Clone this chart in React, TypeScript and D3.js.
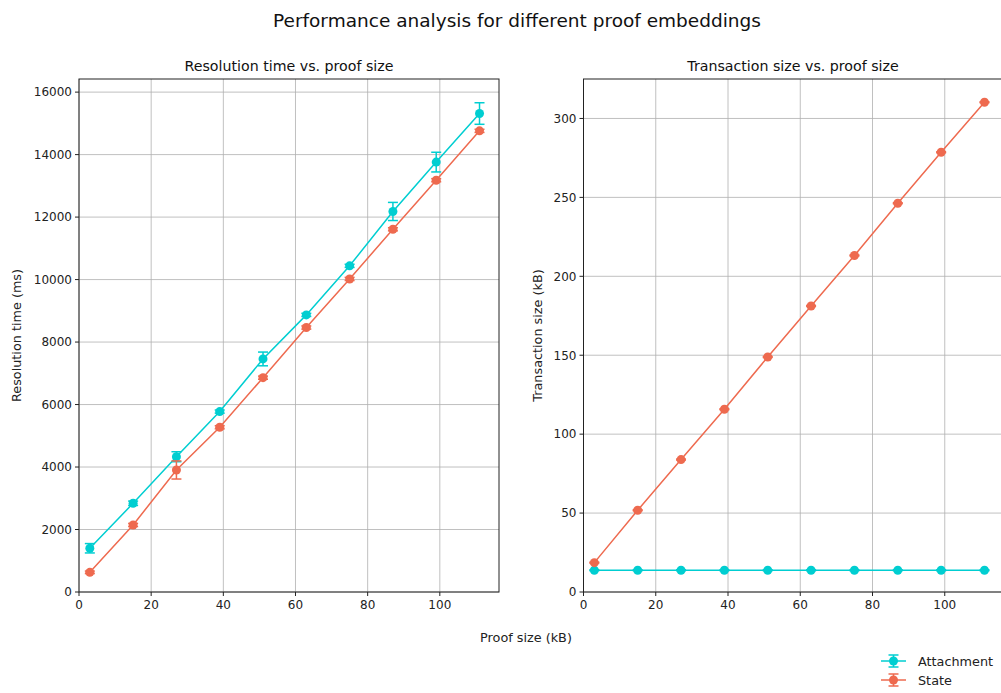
import * as d3 from 'd3';

const proofSizes = [3, 15, 27, 39, 51, 63, 75, 87, 99, 111];

const attachmentTime = [1400, 2840, 4330, 5775, 7460, 8870, 10440, 12180, 13760, 15315];
const attachmentTimeErr = [150, 70, 160, 50, 220, 50, 50, 290, 315, 345];
const stateTime = [630, 2145, 3906, 5273, 6860, 8465, 10020, 11610, 13180, 14760];
const stateTimeErr = [40, 50, 290, 50, 50, 50, 50, 50, 50, 50];

const attachmentTx = [13.8, 13.8, 13.8, 13.8, 13.8, 13.8, 13.8, 13.8, 13.8, 13.8];
const attachmentTxErr = [0.3, 0.3, 0.3, 0.3, 0.3, 0.3, 0.3, 0.3, 0.3, 0.3];
const stateTx = [18.6, 51.8, 83.9, 115.8, 148.9, 181.2, 213.2, 246.3, 278.6, 310.3];
const stateTxErr = [0.3, 0.3, 0.3, 0.3, 0.3, 0.3, 0.3, 0.3, 0.3, 0.3];

const timeTicks = [0, 2000, 4000, 6000, 8000, 10000, 12000, 14000, 16000];
const txTicks = [0, 50, 100, 150, 200, 250, 300];
const xTicks = [0, 20, 40, 60, 80, 100];

const seriesNames = ['Attachment', 'State'];
const CYAN = '#00ced1';
const ORANGE = '#ee6a4f';
const FONT = '"DejaVu Sans", sans-serif';
const TICK_SIZE = 12;
const LABEL_SIZE = 12.8;

interface Series {
  values: number[];
  errors: number[];
  color: string;
}

interface PanelProps {
  left: number;
  right: number;
  top: number;
  bottom: number;
  yMax: number;
  yTicks: number[];
  title: string;
  titleX: number;
  yLabel: string;
  yLabelX: number;
  series: Series[];
}

const Panel = ({ left, right, top, bottom, yMax, yTicks, title, titleX, yLabel, yLabelX, series }: PanelProps) => {
  const x = d3.scaleLinear().domain([0, 116.4]).range([left, right]);
  const y = d3.scaleLinear().domain([0, yMax]).range([bottom, top]);
  const line = d3.line<[number, number]>().x(d => x(d[0])).y(d => y(d[1]));
  const cap = 5;

  return (
    <g>
      {/* grid */}
      {xTicks.map(t => (
        <line key={'gx' + t} x1={x(t)} x2={x(t)} y1={top} y2={bottom} stroke="#b0b0b0" strokeWidth={0.8} />
      ))}
      {yTicks.map(t => (
        <line key={'gy' + t} x1={left} x2={right} y1={y(t)} y2={y(t)} stroke="#b0b0b0" strokeWidth={0.8} />
      ))}

      {series.map((s, i) => (
        <g key={i} stroke={s.color} fill={s.color}>
          <path
            d={line(proofSizes.map((p, j) => [p, s.values[j]] as [number, number])) || ''}
            fill="none"
            strokeWidth={1.5}
          />
          {proofSizes.map((p, j) => {
            const cx = x(p);
            const hi = y(s.values[j] + s.errors[j]);
            const lo = y(s.values[j] - s.errors[j]);
            return (
              <g key={j}>
                <line x1={cx} x2={cx} y1={hi} y2={lo} strokeWidth={1.5} />
                <line x1={cx - cap} x2={cx + cap} y1={hi} y2={hi} strokeWidth={1.5} />
                <line x1={cx - cap} x2={cx + cap} y1={lo} y2={lo} strokeWidth={1.5} />
                <circle cx={cx} cy={y(s.values[j])} r={4.5} stroke="none" />
              </g>
            );
          })}
        </g>
      ))}

      {/* spines */}
      <rect x={left} y={top} width={right - left} height={bottom - top} fill="none" stroke="#222" strokeWidth={1} />

      {/* ticks */}
      {xTicks.map(t => (
        <g key={'tx' + t}>
          <line x1={x(t)} x2={x(t)} y1={bottom} y2={bottom + 4} stroke="#222" />
          <text x={x(t)} y={bottom + 17} textAnchor="middle" fontSize={TICK_SIZE} fontFamily={FONT} fill="#222">
            {t}
          </text>
        </g>
      ))}
      {yTicks.map(t => (
        <g key={'ty' + t}>
          <line x1={left - 4} x2={left} y1={y(t)} y2={y(t)} stroke="#222" />
          <text x={left - 7} y={y(t) + 4.3} textAnchor="end" fontSize={TICK_SIZE} fontFamily={FONT} fill="#222">
            {t}
          </text>
        </g>
      ))}

      <text x={titleX} y={top - 8} textAnchor="middle" fontSize={14.2} fontFamily={FONT} fill="#111">
        {title}
      </text>
      <text
        transform={`translate(${yLabelX},${(top + bottom) / 2}) rotate(-90)`}
        textAnchor="middle"
        fontSize={LABEL_SIZE}
        fontFamily={FONT}
        fill="#222"
      >
        {yLabel}
      </text>
    </g>
  );
};

export default function App() {
  const top = 79;
  const bottom = 592;
  const colors = [CYAN, ORANGE];

  return (
    <svg
      width={1001}
      height={693}
      style={{ position: 'absolute', left: 0, top: 0, background: '#fff' }}
    >
      <rect width={1001} height={693} fill="#fff" />
      <text x={517} y={27} textAnchor="middle" fontSize={18.5} fontFamily={FONT} fill="#111">
        Performance analysis for different proof embeddings
      </text>

      <Panel
        left={79}
        right={499}
        top={top}
        bottom={bottom}
        yMax={16420}
        yTicks={timeTicks}
        title="Resolution time vs. proof size"
        titleX={289}
        yLabel="Resolution time (ms)"
        yLabelX={21}
        series={[
          { values: attachmentTime, errors: attachmentTimeErr, color: CYAN },
          { values: stateTime, errors: stateTimeErr, color: ORANGE },
        ]}
      />
      <Panel
        left={583.5}
        right={1004}
        top={top}
        bottom={bottom}
        yMax={325}
        yTicks={txTicks}
        title="Transaction size vs. proof size"
        titleX={793}
        yLabel="Transaction size (kB)"
        yLabelX={542}
        series={[
          { values: attachmentTx, errors: attachmentTxErr, color: CYAN },
          { values: stateTx, errors: stateTxErr, color: ORANGE },
        ]}
      />

      <text x={526} y={642} textAnchor="middle" fontSize={LABEL_SIZE} fontFamily={FONT} fill="#222">
        Proof size (kB)
      </text>

      {/* legend */}
      {seriesNames.map((name, i) => {
        const ly = 661 + i * 19;
        return (
          <g key={name} stroke={colors[i]} fill={colors[i]}>
            <line x1={881} x2={906} y1={ly} y2={ly} strokeWidth={1.5} />
            <line x1={893.5} x2={893.5} y1={ly - 6} y2={ly + 6} strokeWidth={1.5} />
            <line x1={888.5} x2={898.5} y1={ly - 6} y2={ly - 6} strokeWidth={1.5} />
            <line x1={888.5} x2={898.5} y1={ly + 6} y2={ly + 6} strokeWidth={1.5} />
            <circle cx={893.5} cy={ly} r={4.5} stroke="none" />
            <text x={918} y={ly + 4.5} fontSize={LABEL_SIZE} fontFamily={FONT} fill="#222" stroke="none">
              {name}
            </text>
          </g>
        );
      })}
    </svg>
  );
}
